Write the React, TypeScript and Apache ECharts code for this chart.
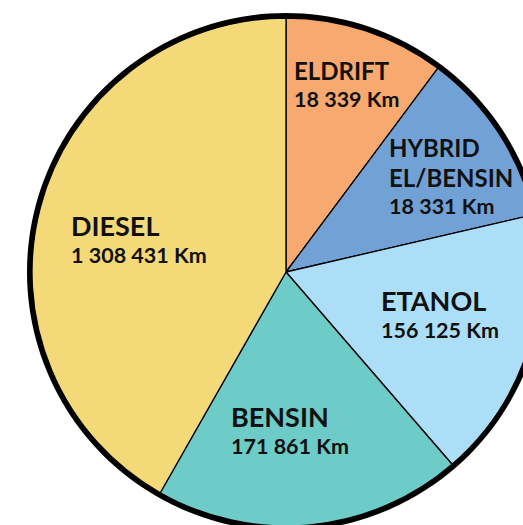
import React, { useEffect, useRef } from "react";
import * as echarts from "echarts";

// Fuel types (clockwise from 12 o'clock)
const categories = ["ELDRIFT", "HYBRID\nEL/BENSIN", "ETANOL", "BENSIN", "DIESEL"];
// Slice shares as drawn in the picture (percent of the circle)
const shares = [10.2, 11.2, 17.3, 19.6, 41.8];
// Distance labels shown in the slices
const kmLabels = ["18 339 Km", "18 331 Km", "156 125 Km", "171 861 Km", "1 308 431 Km"];
const colors = ["#F8A96F", "#72A2D5", "#ACDFF7", "#6DCBC8", "#F4D979"];

// label layout: anchor (left, top of first line) in px and title style
const labelPos = [
  [294, 55],
  [389, 132],
  [381, 284],
  [231, 400],
  [71, 209],
];
const titleStyle = ["n", "n", "N", "N", "N"];

export default function App() {
  const ref = useRef<HTMLDivElement>(null);
  useEffect(() => {
    document.body.style.margin = "0";
    const chart = echarts.init(ref.current!, undefined, { renderer: "svg" });
    const center = [286, 272];
    chart.setOption({
      animation: false,
      backgroundColor: "#ffffff",
      series: [
        {
          type: "pie",
          silent: true,
          center,
          radius: 259,
          z: 1,
          label: { show: false },
          labelLine: { show: false },
          itemStyle: { color: "#000000", borderWidth: 0 },
          data: [{ value: 1, name: "outline" }],
        },
        {
          type: "pie",
          center,
          radius: 254,
          z: 2,
          startAngle: 90,
          clockwise: true,
          avoidLabelOverlap: false,
          itemStyle: { borderColor: "#000000", borderWidth: 1.3 },
          labelLine: { show: false },
          label: {
            show: true,
            position: "inside",
            align: "left",
            verticalAlign: "top",
            fontFamily: "Lato",
            fontWeight: "bold",
            color: "#111111",
            formatter: (p: any) => {
              const st = titleStyle[p.dataIndex];
              const lines = String(p.name).split("\n").map((s) => `{${st}|${s}}`);
              return lines.join("\n") + `\n{v|${kmLabels[p.dataIndex]}}`;
            },
            rich: {
              n: { fontFamily: "Lato", fontWeight: "bold", fontSize: 24, lineHeight: 30, color: "#111111" },
              N: { fontFamily: "Lato", fontWeight: "bold", fontSize: 27, lineHeight: 32, color: "#111111" },
              v: { fontFamily: "Lato", fontWeight: "bold", fontSize: 21.5, lineHeight: 28, color: "#111111" },
            },
          },
          labelLayout: (params: any) => {
            const pos = labelPos[params.dataIndex];
            return { x: pos[0], y: pos[1], align: "left", verticalAlign: "top" };
          },
          data: categories.map((c, i) => ({
            name: c,
            value: shares[i],
            itemStyle: { color: colors[i] },
          })),
        },
      ],
    });
    return () => chart.dispose();
  }, []);
  return <div ref={ref} style={{ width: 523, height: 525 }} />;
}
